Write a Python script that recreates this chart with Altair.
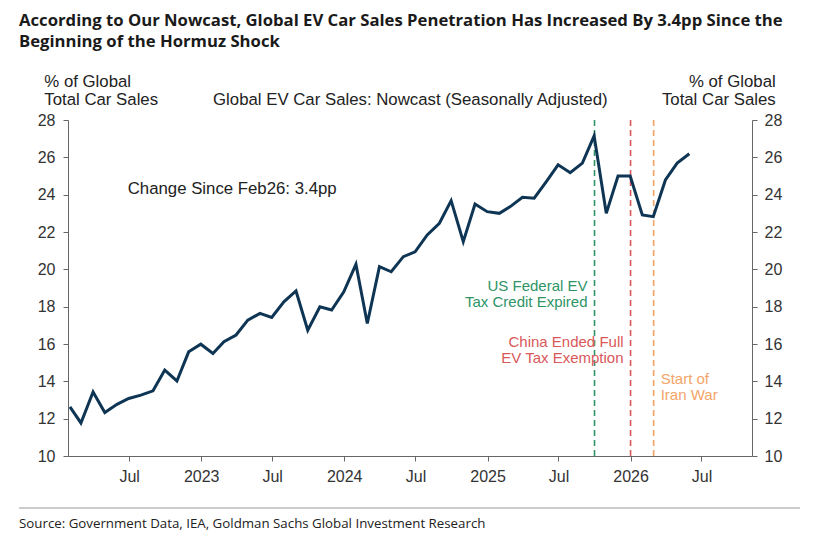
import altair as alt
import pandas as pd

# ---------------- data ----------------
months = pd.period_range("2022-01", "2026-05", freq="M").to_timestamp() + pd.offsets.MonthEnd(0)
ev_share = [12.63, 11.77, 13.43, 12.33, 12.77, 13.08, 13.26, 13.49, 14.60, 14.02, 15.58, 15.99,
            15.49, 16.12, 16.48, 17.28, 17.64, 17.42, 18.26, 18.84, 16.74, 17.99, 17.82, 18.80,
            20.27, 17.10, 20.14, 19.87, 20.68, 20.94, 21.84, 22.47, 23.68, 21.48, 23.50, 23.09,
            23.00, 23.36, 23.86, 23.81, 24.70, 25.60, 25.18, 25.69, 27.15, 23.00, 25.00, 25.00,
            22.91, 22.82, 24.79, 25.69, 26.19]

event_names = ["US Federal EV Tax Credit Expired", "China Ended Full EV Tax Exemption", "Start of Iran War"]
event_dates = ["2025-10-01T00:00:00", "2026-01-01T00:00:00", "2026-03-01T00:00:00"]
event_lines = [["US Federal EV", "Tax Credit Expired"], ["China Ended Full", "EV Tax Exemption"], ["Start of", "Iran War"]]

x_tick_months = [(2022, 7), (2023, 1), (2023, 7), (2024, 1), (2024, 7), (2025, 1), (2025, 7), (2026, 1), (2026, 7)]
y_ticks = [10, 12, 14, 16, 18, 20, 22, 24, 26, 28]

title_lines = ["According to Our Nowcast, Global EV Car Sales Penetration Has Increased By 3.4pp Since the",
               "Beginning of the Hormuz Shock"]
subtitle = "Global EV Car Sales: Nowcast (Seasonally Adjusted)"
axis_title = ["% of Global", "Total Car Sales"]
note = "Change Since Feb26: 3.4pp"
source = "Source: Government Data, IEA, Goldman Sachs Global Investment Research"

df = pd.DataFrame({"month": months, "share": ev_share})
events = pd.DataFrame({"event": event_names, "date": event_dates})

# ---------------- styles ----------------
LINE_COLOR = "#0f3554"
EVENT_COLORS = ["#2f9466", "#d9585a", "#f3a468"]
SANS = "Liberation Sans, Arial, sans-serif"
HEAD = "Open Sans, sans-serif"
W, H = 684, 336

xscale = alt.Scale(domain=[alt.DateTime(year=2022, month=1, date=26),
                           alt.DateTime(year=2026, month=11, date=7)])
yscale = alt.Scale(domain=[10, 28], nice=False, zero=False)

axis_common = dict(grid=False, domainColor="#666", tickColor="#666", labelColor="#333",
                   labelFont=SANS, labelFontSize=16, tickSize=5, title=None)

x_axis = alt.Axis(values=[alt.DateTime(year=y, month=m, date=1) for y, m in x_tick_months],
                  labelExpr="month(datum.value) == 0 ? timeFormat(datum.value, '%Y') : timeFormat(datum.value, '%b')",
                  labelPadding=7, **axis_common)

base = alt.Chart(df)

line = base.mark_line(color=LINE_COLOR, strokeWidth=3).encode(
    x=alt.X("month:T", scale=xscale, axis=x_axis),
    y=alt.Y("share:Q", scale=yscale,
            axis=alt.Axis(values=y_ticks, orient="left", labelPadding=8, **axis_common)),
)

right_axis = base.mark_line(strokeOpacity=0).encode(
    x=alt.X("month:T", scale=xscale),
    y=alt.Y("share:Q", scale=yscale,
            axis=alt.Axis(values=y_ticks, orient="right", labelPadding=7, **axis_common)),
)

rules = alt.Chart(events).mark_rule(strokeDash=[6, 4], strokeWidth=1.6).encode(
    x=alt.X("date:T", scale=xscale),
    color=alt.Color("event:N", scale=alt.Scale(domain=event_names, range=EVENT_COLORS), legend=None),
)

def event_label(i, align, dx, y, lh):
    d = pd.DataFrame({"date": [event_dates[i]]})
    return alt.Chart(d).mark_text(align=align, baseline="alphabetic", dx=dx, font=SANS,
                                  fontSize=15, lineHeight=lh, color=EVENT_COLORS[i]).encode(
        x=alt.X("date:T", scale=xscale), y=alt.value(y), text=alt.value(event_lines[i]))

one = pd.DataFrame({"k": [0]})

def txt(text, x, y, **kw):
    return alt.Chart(one).mark_text(baseline="alphabetic", **kw).encode(
        x=alt.value(x), y=alt.value(y), text=alt.value(text))

layers = [
    rules, line, right_axis,
    event_label(0, "right", -7, 170.7, 16.5),
    event_label(1, "right", -7, 226.7, 16.2),
    event_label(2, "left", 7, 263.5, 16.0),
    txt(title_lines, -49, -94, align="left", font=HEAD, fontWeight="bold", fontSize=16.7,
        lineHeight=21, color="#1a1a1a"),
    txt(axis_title, -23.7, -32.7, align="left", font=SANS, fontSize=16.8, lineHeight=17.7, color="#222"),
    txt(axis_title, 707.7, -32.7, align="right", font=SANS, fontSize=16.8, lineHeight=17.7, color="#222"),
    txt(subtitle, 342.3, -15, align="center", font=SANS, fontSize=16.8, color="#222"),
    txt(note, 59.7, 74.3, align="left", font=SANS, fontSize=16.8, color="#222"),
    txt(source, -49, 408, align="left", font=HEAD, fontSize=13.3, color="#222"),
    alt.Chart(one).mark_rule(color="#999", strokeWidth=1).encode(
        x=alt.value(-49), x2=alt.value(732), y=alt.value(388)),
]

chart = alt.layer(*layers).resolve_scale(y="independent").properties(
    width=W, height=H,
    autosize=alt.AutoSizeParams(type="none"),
    padding={"left": 60, "top": 112, "right": 55, "bottom": 76},
).configure_view(strokeWidth=0)

chart.save("out.html", embed_options={"renderer": "svg", "actions": False})
